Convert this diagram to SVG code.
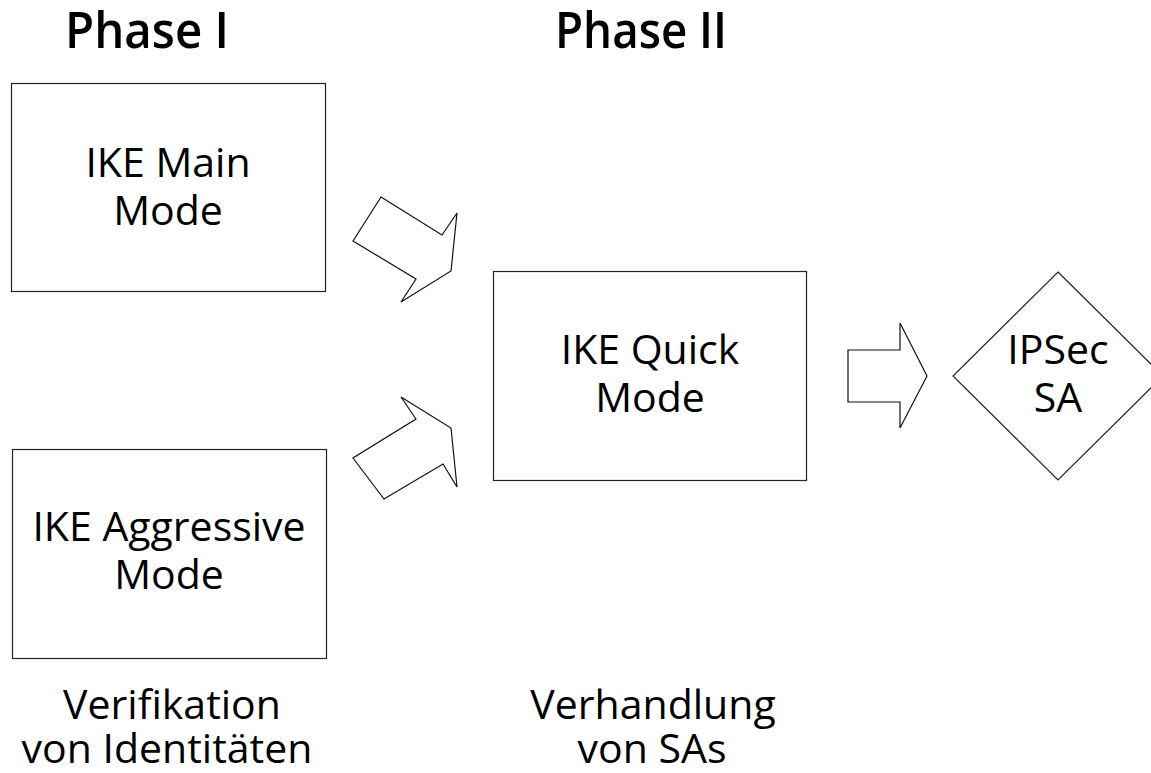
<svg xmlns="http://www.w3.org/2000/svg" width="1151" height="773" viewBox="0 0 1151 773">
<style>
.box{fill:#fff;stroke:#222;stroke-width:1.2}
.arr{fill:#fff;stroke:#111;stroke-width:1.2;stroke-linejoin:miter}
.t{font-family:"Open Sans","Noto Sans",sans-serif;font-size:41px;fill:#000;text-anchor:middle}
.b{font-family:"Open Sans","Noto Sans",sans-serif;font-size:41px;fill:#000;text-anchor:middle}
.h{font-family:"Open Sans","Noto Sans",sans-serif;font-size:51px;font-weight:600;fill:#000;text-anchor:middle}
</style>
<rect width="1151" height="773" fill="#fff"/>
<g id="titles">
<text class="h" x="147" y="48" textLength="164" lengthAdjust="spacingAndGlyphs">Phase I</text>
<text class="h" x="641" y="48" textLength="172" lengthAdjust="spacingAndGlyphs">Phase II</text>
</g>
<g id="main-mode">
<rect class="box" x="11.5" y="83.5" width="314" height="208"/>
<text class="t" x="168" y="177">IKE Main</text>
<text class="t" x="168" y="225">Mode</text>
</g>
<g id="aggressive-mode">
<rect class="box" x="12.5" y="449.5" width="314" height="209"/>
<text class="t" x="169" y="541">IKE Aggressive</text>
<text class="t" x="169" y="589">Mode</text>
</g>
<g id="quick-mode">
<rect class="box" x="493.5" y="271.5" width="313" height="209"/>
<text class="t" x="650" y="364">IKE Quick</text>
<text class="t" x="650" y="412">Mode</text>
</g>
<g id="ipsec-sa">
<polygon class="box" points="1058,272 1163,376 1058,480 953,376"/>
<text class="t" x="1058" y="364">IPSec</text>
<text class="t" x="1058" y="412">SA</text>
</g>
<g id="connectors">
<polygon class="arr" points="381,197 442,235 457,213 451,271 401,302 416,279 353,241"/>
<polygon class="arr" points="401,397 451,428 457,487 443,464 384,499 353,458 416,419"/>
<polygon class="arr" points="848,350 900,350 900,323 927,376 900,428 900,402 848,402"/>
</g>
<g id="captions">
<text class="b" x="172" y="719">Verifikation</text>
<text class="b" x="167" y="763">von Identitäten</text>
<text class="b" x="653" y="719">Verhandlung</text>
<text class="b" x="652" y="763">von SAs</text>
</g>
</svg>
